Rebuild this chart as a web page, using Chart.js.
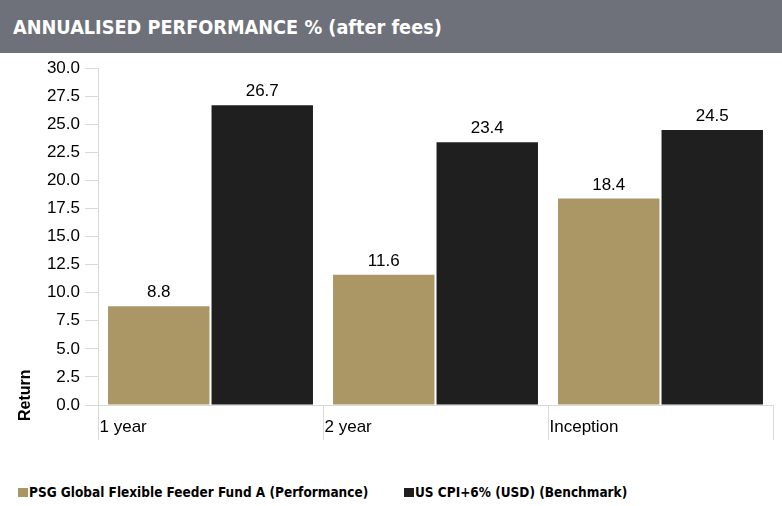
<!DOCTYPE html>
<html>
<head>
<meta charset="utf-8">
<script src="https://cdn.jsdelivr.net/npm/chart.js@4.4.0/dist/chart.umd.min.js"></script>
<style>
  body { margin: 0; background: #fff; width: 782px; height: 506px; position: relative; overflow: hidden; }
  .header {
    height: 53px; background: #6f717a; color: #fff;
    font-family: "DejaVu Sans Condensed", sans-serif;
    font-weight: bold; font-size: 19.7px; line-height: 56px; padding-left: 13px;
  }
  .wrap { position: absolute; left: 0; top: 53px; width: 782px; height: 420px; }
  .legend {
    position: absolute; top: 484px; left: 0; width: 782px; height: 20px;
    font-family: "DejaVu Sans Condensed", sans-serif;
    font-weight: bold; font-size: 13.5px; color: #000;
  }
  .legend-item { position: absolute; top: 0; display: flex; align-items: center; }
  .legend-box { width: 10px; height: 9px; margin-right: 1px; }
</style>
</head>
<body>
<div class="header">ANNUALISED PERFORMANCE % (after fees)</div>
<div class="wrap"><canvas id="perf-chart" width="782" height="420"></canvas></div>
<div class="legend" id="legend"></div>
<script>
// Chart data
const categories = ['1 year', '2 year', 'Inception'];
const fundValues = [8.8, 11.6, 18.4];
const benchmarkValues = [26.7, 23.4, 24.5];
const seriesNames = ['PSG Global Flexible Feeder Fund A (Performance)', 'US CPI+6% (USD) (Benchmark)'];
const seriesColors = ['#ab9766', '#1f1f1f'];

const baseFont = '"Liberation Sans", Arial, sans-serif';

// Value labels above each bar
const valueLabels = {
    id: 'valueLabels',
    afterDatasetsDraw(chart) {
        const ctx = chart.ctx;
        ctx.save();
        ctx.font = '17px ' + baseFont;
        ctx.fillStyle = '#000';
        ctx.textAlign = 'center';
        ctx.textBaseline = 'bottom';
        chart.data.datasets.forEach((ds, i) => {
            chart.getDatasetMeta(i).data.forEach((bar, j) => {
                ctx.fillText(ds.data[j].toFixed(1), bar.x, bar.y - 5);
            });
        });
        ctx.restore();
    }
};

// Y axis title, sitting low beside the zero line
const returnTitle = {
    id: 'returnTitle',
    afterDraw(chart) {
        const ctx = chart.ctx;
        const y = chart.scales.y;
        ctx.save();
        ctx.font = 'bold 16px ' + baseFont;
        ctx.fillStyle = '#000';
        ctx.translate(26, y.bottom + 16);
        ctx.rotate(-Math.PI / 2);
        ctx.textAlign = 'left';
        ctx.textBaseline = 'middle';
        ctx.fillText('Return', 0, 0);
        ctx.restore();
    }
};

const ctx = document.getElementById('perf-chart').getContext('2d');
const perfChart = new Chart(ctx, {
    type: 'bar',
    data: {
        labels: categories,
        datasets: [
            { label: seriesNames[0], data: fundValues, backgroundColor: seriesColors[0] },
            { label: seriesNames[1], data: benchmarkValues, backgroundColor: seriesColors[1] }
        ]
    },
    options: {
        responsive: false,
        animation: false,
        categoryPercentage: 0.92,
        barPercentage: 0.98,
        layout: { padding: { top: 14, right: 9, bottom: 28, left: 0 } },
        scales: {
            x: {
                grid: { offset: true, drawOnChartArea: false, tickLength: 35, color: '#d9d9d9' },
                border: { color: '#d9d9d9' },
                ticks: {
                    align: 'start',
                    labelOffset: -111,
                    padding: -23,
                    color: '#000',
                    font: { family: baseFont, size: 17 }
                },
                afterFit(scale) { scale.height = 40; }
            },
            y: {
                min: 0,
                max: 30,
                grid: { drawOnChartArea: false, tickLength: 13, color: '#d9d9d9' },
                border: { color: '#d9d9d9' },
                ticks: {
                    stepSize: 2.5,
                    padding: 5,
                    color: '#000',
                    font: { family: baseFont, size: 17 },
                    callback: v => Number(v).toFixed(1)
                },
                afterFit(scale) { scale.width = 98; }
            }
        },
        plugins: {
            legend: { display: false },
            tooltip: { enabled: false }
        }
    },
    plugins: [valueLabels, returnTitle]
});

// HTML legend
const legendEl = document.getElementById('legend');
const legendLeft = [18, 404];
seriesNames.forEach((name, i) => {
    const item = document.createElement('div');
    item.className = 'legend-item';
    item.style.left = legendLeft[i] + 'px';
    item.innerHTML = `<span class="legend-box" style="background:${seriesColors[i]}"></span><span>${name}</span>`;
    legendEl.appendChild(item);
});
</script>
</body>
</html>
